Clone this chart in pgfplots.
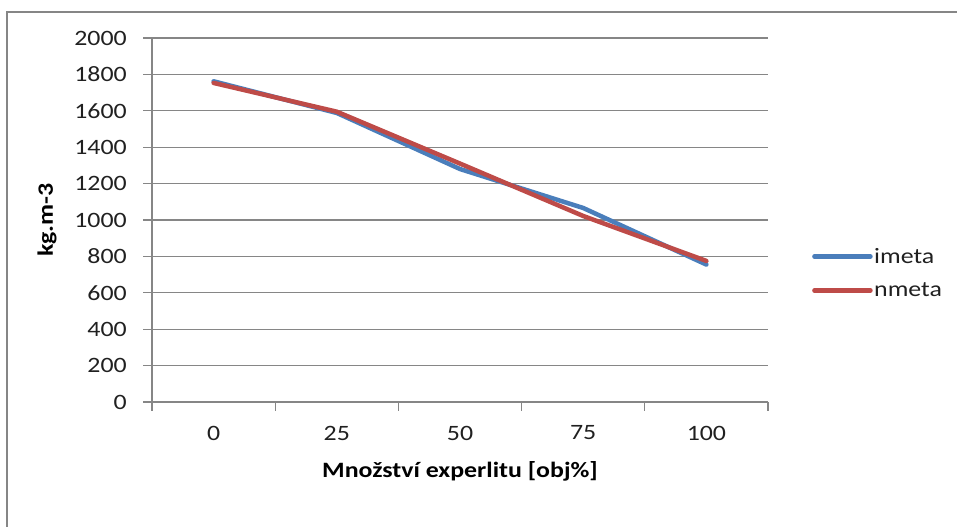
\documentclass[border=0pt]{standalone}
\usepackage{fontspec}
\setmainfont{Carlito}[FakeStretch=1.18]
\usepackage{pgfplots}
\pgfplotsset{compat=1.18}
\definecolor{imetablue}{HTML}{4A7EBB}
\definecolor{nmetared}{HTML}{BE4B48}
\definecolor{gridgray}{HTML}{868686}
\definecolor{textgray}{HTML}{202020}

\begin{document}
\begin{tikzpicture}[x=1bp,y=1bp]
\useasboundingbox (0,0) rectangle (957,527);
% chart area border (only top and left are inside the crop)
\draw[gridgray, line width=1.5bp] (7,0) -- (7,515) -- (957,515);
\begin{axis}[
    at={(152bp,125bp)}, anchor=south west,
    scale only axis, width=616bp, height=364bp,
    xmin=-0.5, xmax=4.5, ymin=0, ymax=2000,
    xtick={0,1,2,3,4},
    xticklabels={0,25,50,75,100},
    minor xtick={-0.5,0.5,1.5,2.5,3.5,4.5},
    ytick={0,200,...,2000},
    axis x line*=bottom, axis y line*=left,
    axis line style={-, draw=gridgray, line width=1.3bp},
    tick align=outside,
    major x tick style={draw=none},
    minor x tick style={gridgray, line width=1.3bp},
    ytick style={gridgray, line width=1.3bp},
    major tick length=9bp, minor tick length=9bp,
    ymajorgrids,
    major grid style={gridgray, line width=1.2bp},
    /pgf/number format/assume math mode=true,
    /pgf/number format/1000 sep={},
    tick label style={font=\fontsize{22}{25}\selectfont, text=textgray},
    xticklabel style={anchor=center, yshift=-22bp},
    yticklabel style={anchor=east, inner sep=0pt, xshift=-16bp},
    xlabel={Množství experlitu [obj\%]},
    ylabel={kg.m-3},
    label style={font=\fontsize{22}{25}\selectfont\bfseries, text=black},
    xlabel style={at={(axis description cs:0.5,-0.1896)}, anchor=center},
    ylabel style={at={(axis description cs:-0.1705,0.5)}, anchor=center},
    legend style={at={(axis description cs:1.0714,0.354)}, anchor=west,
        draw=none, fill=none, inner sep=0pt, row sep=15bp,
        nodes={inner sep=1.5bp, text=textgray},
        font=\fontsize{22}{25}\selectfont},
    legend cell align=left,
    legend image code/.code={\draw[#1] (0bp,0bp) -- (56bp,0bp);},
    every axis plot/.append style={line width=4.5bp, line join=round, line cap=round},
]
\addplot[imetablue] coordinates {(0,1762) (1,1588) (2,1280) (3,1066) (4,755)};
\addlegendentry{imeta}
\addplot[nmetared] coordinates {(0,1753) (1,1595) (2,1310) (3,1022) (4,775)};
\addlegendentry{nmeta}
\end{axis}
\end{tikzpicture}
\end{document}
